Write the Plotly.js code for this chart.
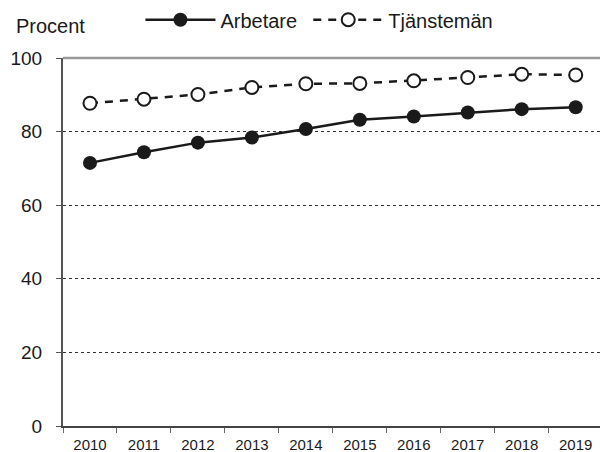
<!DOCTYPE html>
<html>
<head>
<meta charset="utf-8">
<script src="https://cdn.plot.ly/plotly-3.0.1.min.js"></script>
<style>html,body{margin:0;padding:0;background:#fff;}#chart{width:600px;height:452px;}</style>
</head>
<body>
<div id="chart"></div>
<script>
const years = ['2010','2011','2012','2013','2014','2015','2016','2017','2018','2019'];
const arbetare = [71.5, 74.4, 77.0, 78.4, 80.7, 83.2, 84.1, 85.2, 86.1, 86.6];
const tjansteman = [87.7, 88.8, 90.1, 92.0, 93.0, 93.1, 93.8, 94.7, 95.6, 95.4];
const yTicks = [0, 20, 40, 60, 80, 100];
const seriesNames = ['Arbetare', 'Tjänstemän'];
const yLabel = 'Procent';

const FONT = 'Arial, "Liberation Sans", sans-serif';

const traces = [
  {
    x: years, y: arbetare, name: seriesNames[0], type: 'scatter', mode: 'lines+markers',
    legend: 'legend',
    line: {color: '#1a1a1a', width: 2.5},
    marker: {color: '#1a1a1a', size: 14, symbol: 'circle', line: {color: '#1a1a1a', width: 0}}
  },
  {
    x: years, y: tjansteman, name: seriesNames[1], type: 'scatter', mode: 'lines+markers',
    legend: 'legend2',
    line: {color: '#1a1a1a', width: 2.5, dash: '8px,7px'},
    marker: {color: '#ffffff', size: 13, symbol: 'circle', line: {color: '#1a1a1a', width: 2}}
  }
];

const legendBase = {
  orientation: 'h', xanchor: 'left', y: 1.104, yanchor: 'middle',
  font: {family: FONT, size: 20, color: '#1a1a1a'},
  itemwidth: 70, bgcolor: 'rgba(0,0,0,0)', borderwidth: 0
};

const layout = {
  width: 600, height: 452,
  margin: {l: 62.5, r: 0, t: 57.5, b: 26},
  paper_bgcolor: '#ffffff', plot_bgcolor: '#ffffff',
  font: {family: FONT, color: '#1a1a1a', size: 15},
  showlegend: true,
  legend: Object.assign({}, legendBase, {x: 0.1442}),
  legend2: Object.assign({}, legendBase, {x: 0.4567}),
  xaxis: {
    type: 'category', range: [-0.5, 9.45],
    showline: true, linecolor: '#444', linewidth: 2,
    ticks: 'outside', tickson: 'boundaries', ticklen: 5, tickcolor: '#666', tickwidth: 1,
    showgrid: false, zeroline: false,
    tickfont: {family: FONT, size: 15, color: '#1a1a1a'},
    ticklabelstandoff: 4,
    fixedrange: true
  },
  yaxis: {
    range: [0, 100], tickvals: yTicks, ticktext: yTicks.map(String),
    showline: true, linecolor: '#555', linewidth: 2,
    ticks: 'outside', ticklen: 5, tickcolor: '#555', tickwidth: 1,
    showgrid: true, gridcolor: '#333', gridwidth: 1, griddash: 'dot',
    zeroline: false,
    tickfont: {family: FONT, size: 19, color: '#1a1a1a'},
    ticklabelstandoff: 10,
    fixedrange: true
  },
  shapes: [
    {type: 'line', xref: 'paper', yref: 'paper', x0: 0, x1: 1, y0: 1, y1: 1,
     line: {color: '#9a9a9a', width: 2.5}, layer: 'above'}
  ],
  annotations: [
    {text: yLabel, xref: 'paper', yref: 'paper', x: -0.092, y: 1.088,
     xanchor: 'left', yanchor: 'middle', showarrow: false,
     font: {family: FONT, size: 20, color: '#1a1a1a'}}
  ]
};

Plotly.newPlot('chart', traces, layout, {displayModeBar: false, staticPlot: true});
</script>
</body>
</html>
